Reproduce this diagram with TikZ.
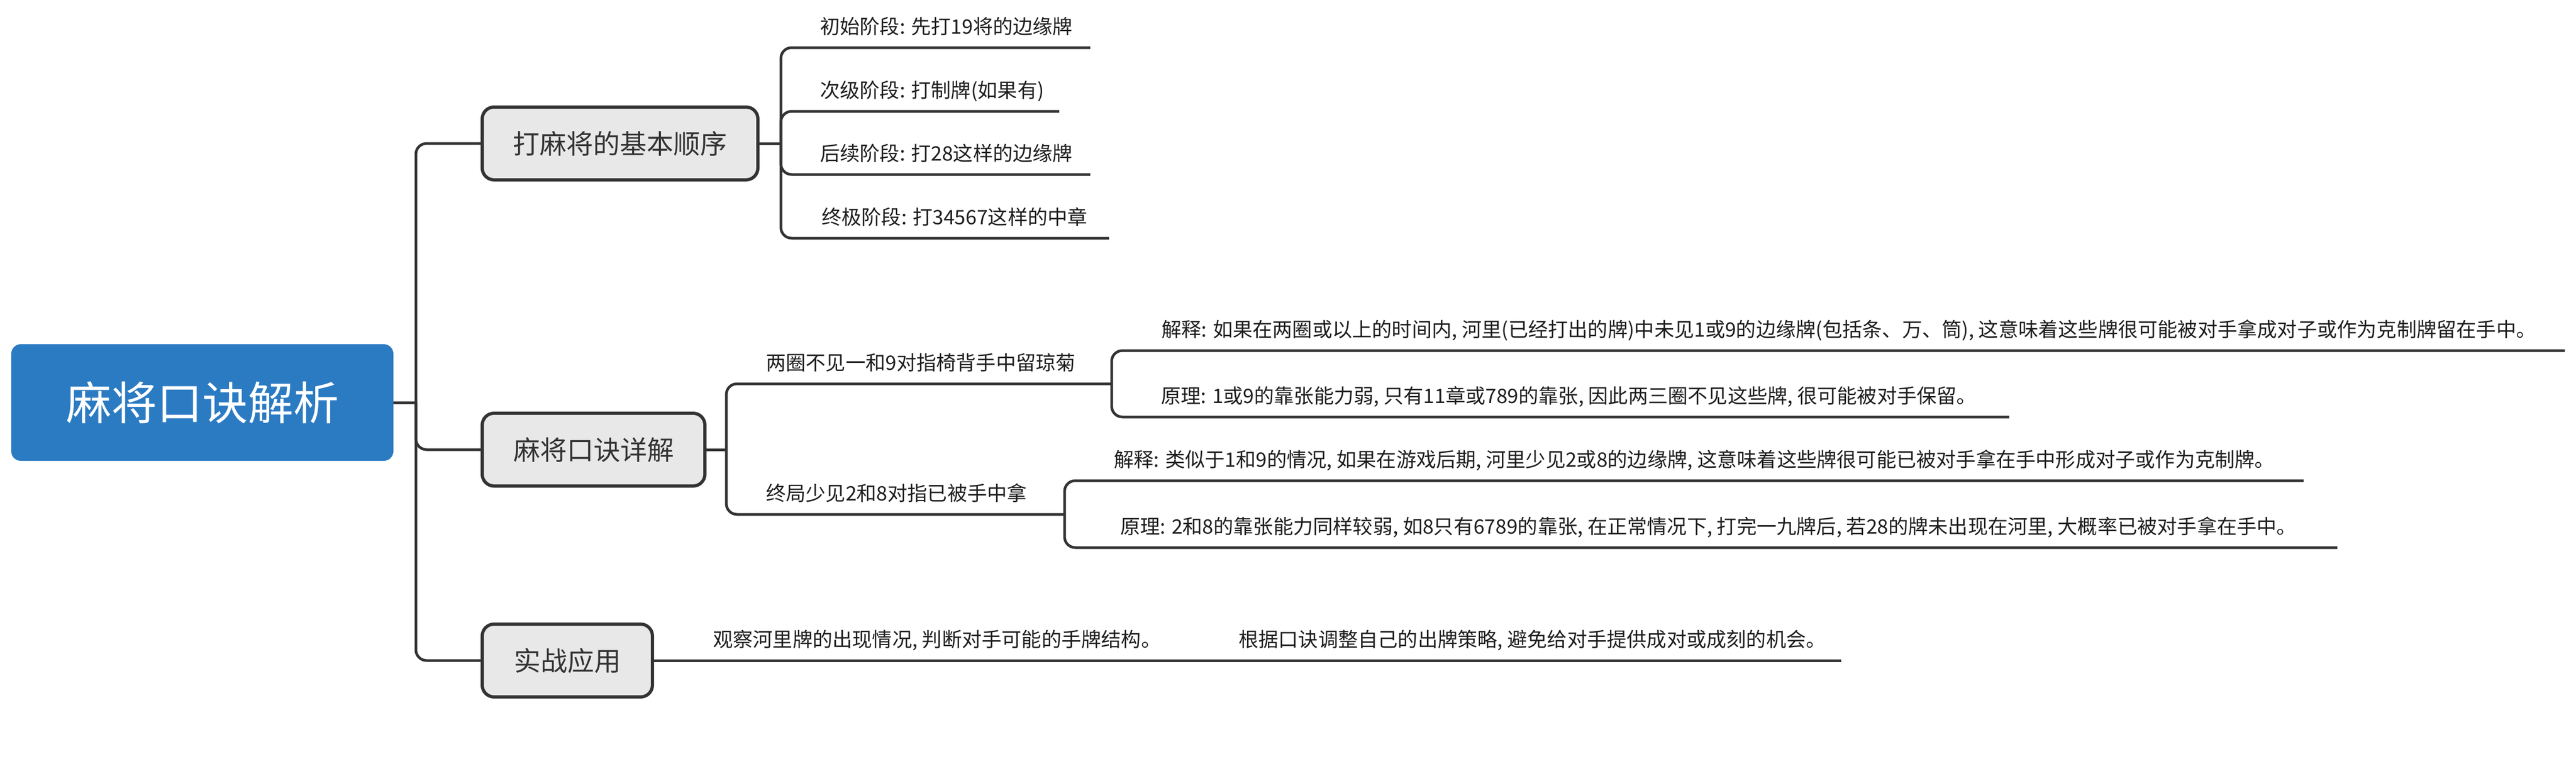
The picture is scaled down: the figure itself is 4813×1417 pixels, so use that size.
\documentclass[tikz,border=0pt]{standalone}
\usepackage{fontspec}
\setmainfont{Noto Sans CJK SC}
\definecolor{rootblue}{HTML}{2B7BC3}
\definecolor{linec}{HTML}{333333}
\definecolor{boxfill}{HTML}{E8E8E8}
\definecolor{leafc}{HTML}{1E1E1E}
\tikzset{
  conn/.style={draw=linec, line width=5pt},
  rconn/.style={conn, rounded corners=20pt},
  topicbox/.style={draw=linec, line width=6pt, fill=boxfill, rounded corners=22pt,
    minimum height=136pt, inner sep=0pt, text=linec,
    font=\fontsize{50}{58}\selectfont, anchor=west},
  rootbox/.style={fill=rootblue, rounded corners=18pt, minimum width=714pt,
    minimum height=218pt, inner sep=0pt, text=white, font=\fontsize{85}{100}\selectfont},
  leaf/.style={inner sep=0pt, anchor=base west, text=leafc, font=\fontsize{37.2}{44}\selectfont},
}
\begin{document}
\begin{tikzpicture}[x=1pt,y=-1pt]
\useasboundingbox (0,0) rectangle (4813,1417);
% root and main topics
\node[rootbox] (root) at (378,752) {麻将口诀解析};
\node[topicbox, minimum width=515pt] (b1) at (898,268) {打麻将的基本顺序};
\node[topicbox, minimum width=416pt] (b2) at (898,840) {麻将口诀详解};
\node[topicbox, minimum width=318pt] (b3) at (898,1234) {实战应用};
\coordinate (j0) at (777,752);
\draw[conn] (root.east) -- (j0);
\draw[rconn] (j0) |- (b1.west);
\draw[rconn] (j0) |- (b2.west);
\draw[rconn] (j0) |- (b3.west);
% branch 1
\coordinate (j1) at (1459,268);
\draw[conn] (b1.east) -- (j1);
\coordinate (e11) at (2037,89);
\coordinate (e12) at (1979,208);
\coordinate (e13) at (2037,326);
\coordinate (e14) at (2072,445);
\draw[rconn] (j1) |- (e11);
\draw[rconn] (j1) |- (e12);
\draw[rconn] (j1) |- (e13);
\draw[rconn] (j1) |- (e14);
\node[leaf] (t11) at (1532,63) {初始阶段: 先打19将的边缘牌};
\node[leaf] (t12) at (1532,182) {次级阶段: 打制牌(如果有)};
\node[leaf] (t13) at (1532,300) {后续阶段: 打28这样的边缘牌};
\node[leaf] (t14) at (1535,419) {终极阶段: 打34567这样的中章};
% branch 2
\coordinate (j2) at (1357,840);
\draw[conn] (b2.east) -- (j2);
\coordinate (e21) at (2077,717);
\coordinate (e22) at (1989,961);
\draw[rconn] (j2) |- (e21);
\draw[rconn] (j2) |- (e22);
\node[leaf] (t21) at (1431,691) {两圈不见一和9对指椅背手中留琼菊};
\node[leaf] (t22) at (1431,935) {终局少见2和8对指已被手中拿};
\coordinate (e211) at (4792,655);
\coordinate (e212) at (3754,779);
\draw[rconn] (e21) |- (e211);
\draw[rconn] (e21) |- (e212);
\node[leaf] (t211) at (2170,629) {解释: 如果在两圈或以上的时间内, 河里(已经打出的牌)中未见1或9的边缘牌(包括条、万、筒), 这意味着这些牌很可能被对手拿成对子或作为克制牌留在手中。};
\node[leaf] (t212) at (2169,753) {原理: 1或9的靠张能力弱, 只有11章或789的靠张, 因此两三圈不见这些牌, 很可能被对手保留。};
\coordinate (e221) at (4304,898);
\coordinate (e222) at (4367,1023);
\draw[rconn] (e22) |- (e221);
\draw[rconn] (e22) |- (e222);
\node[leaf] (t221) at (2081,872) {解释: 类似于1和9的情况, 如果在游戏后期, 河里少见2或8的边缘牌, 这意味着这些牌很可能已被对手拿在手中形成对子或作为克制牌。};
\node[leaf] (t222) at (2093,997) {原理: 2和8的靠张能力同样较弱, 如8只有6789的靠张, 在正常情况下, 打完一九牌后, 若28的牌未出现在河里, 大概率已被对手拿在手中。};
% branch 3
\coordinate (e31) at (2280,1234);
\coordinate (e32) at (3440,1234);
\draw[conn] (b3.east) -- (e31);
\draw[conn] (e31) -- (e32);
\node[leaf] (t31) at (1332,1208) {观察河里牌的出现情况, 判断对手可能的手牌结构。};
\node[leaf] (t32) at (2314,1208) {根据口诀调整自己的出牌策略, 避免给对手提供成对或成刻的机会。};
\end{tikzpicture}
\end{document}
